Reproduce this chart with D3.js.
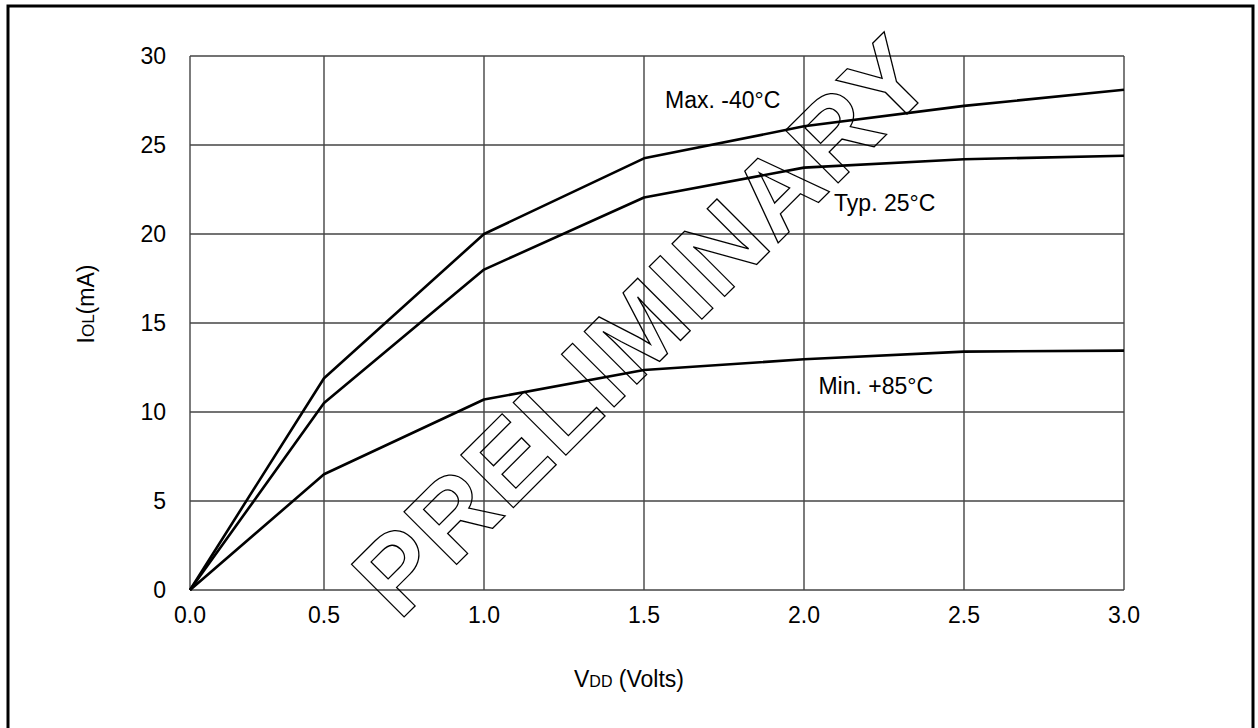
<!DOCTYPE html>
<html>
<head>
<meta charset="utf-8">
<script src="https://cdn.jsdelivr.net/npm/d3@7"></script>
<style>
  html, body { margin: 0; padding: 0; background: #fff; }
  svg { display: block; font-family: 'Liberation Sans', Arial, sans-serif; }
</style>
</head>
<body>
<svg id="chart" width="1258" height="728"></svg>
<script>
// ------------------
// Data
// ------------------
const vdd = [0.0, 0.5, 1.0, 1.5, 2.0, 2.5, 3.0]
const iolMax = [0, 11.9, 20.0, 24.25, 26.05, 27.2, 28.1]
const iolTyp = [0, 10.5, 18.0, 22.05, 23.73, 24.2, 24.4]
const iolMin = [0, 6.5, 10.7, 12.36, 12.96, 13.39, 13.45]
const seriesNames = ['Max. -40°C', 'Typ. 25°C', 'Min. +85°C']
const xTicks = [0.0, 0.5, 1.0, 1.5, 2.0, 2.5, 3.0]
const yTicks = [0, 5, 10, 15, 20, 25, 30]

const series = [iolMax, iolTyp, iolMin]
// label anchors in data units (VDD, mA)
const labelAt = [[1.566, 27.1], [2.094, 21.3], [2.045, 11.0]]

const svg = d3.select('#chart')
const width = 1258
const height = 728
const fs = 23

svg.append('rect').attr('width', width).attr('height', height).attr('fill', '#fff')

// outer frame (bottom edge runs off the page)
svg.append('rect')
  .attr('x', 8).attr('y', 6)
  .attr('width', 1245).attr('height', 760)
  .attr('fill', 'none')
  .attr('stroke', '#000')
  .attr('stroke-width', 3)

// ------------------
// Scales (first half-volt is drawn narrower than the rest)
// ------------------
const x = d3.scaleLinear().domain([0, 0.5, 3]).range([190, 324, 1124])
const y = d3.scaleLinear().domain([0, 30]).range([590, 56])

const grid = svg.append('g')
grid.selectAll('line.v')
  .data(xTicks)
  .enter().append('line')
  .attr('x1', d => x(d)).attr('x2', d => x(d))
  .attr('y1', y(0)).attr('y2', y(30))
  .attr('stroke', '#444').attr('stroke-width', 1.4)
grid.selectAll('line.h')
  .data(yTicks)
  .enter().append('line')
  .attr('x1', x(0)).attr('x2', x(3))
  .attr('y1', d => y(d)).attr('y2', d => y(d))
  .attr('stroke', '#444').attr('stroke-width', 1.4)

// ------------------
// Tick labels
// ------------------
svg.append('g').selectAll('text')
  .data(xTicks)
  .enter().append('text')
  .attr('x', d => x(d))
  .attr('y', 623)
  .attr('text-anchor', 'middle')
  .attr('font-size', fs)
  .text(d => d.toFixed(1))

svg.append('g').selectAll('text')
  .data(yTicks)
  .enter().append('text')
  .attr('x', 166)
  .attr('y', d => y(d))
  .attr('dy', '0.36em')
  .attr('text-anchor', 'end')
  .attr('font-size', fs)
  .text(d => d)

// axis titles
const xt = svg.append('text')
  .attr('x', 629).attr('y', 687)
  .attr('text-anchor', 'middle')
  .attr('font-size', fs)
xt.append('tspan').text('V')
xt.append('tspan').attr('font-size', 16).text('DD')
xt.append('tspan').text(' (Volts)')

const yt = svg.append('text')
  .attr('transform', 'translate(94,304) rotate(-90)')
  .attr('text-anchor', 'middle')
  .attr('font-size', fs)
yt.append('tspan').text('I')
yt.append('tspan').attr('font-size', 17).text('OL')
yt.append('tspan').text('(mA)')

// ------------------
// Watermark (outlined)
// ------------------
svg.append('text')
  .attr('transform', 'translate(399,622) rotate(-45)')
  .attr('font-size', 108)
  .attr('font-weight', 'bold')
  .attr('letter-spacing', 2.2)
  .attr('fill', 'none')
  .attr('stroke', '#000')
  .attr('stroke-width', 1.3)
  .text('PRELIMINARY')

// ------------------
// Curves
// ------------------
const line = d3.line()
  .x((d, i) => x(vdd[i]))
  .y(d => y(d))

svg.append('g').selectAll('path')
  .data(series)
  .enter().append('path')
  .attr('d', d => line(d))
  .attr('fill', 'none')
  .attr('stroke', '#000')
  .attr('stroke-width', 2.6)
  .attr('stroke-linejoin', 'round')

svg.append('g').selectAll('text')
  .data(seriesNames)
  .enter().append('text')
  .attr('x', (d, i) => x(labelAt[i][0]))
  .attr('y', (d, i) => y(labelAt[i][1]))
  .attr('font-size', fs)
  .text(d => d)
</script>
</body>
</html>
